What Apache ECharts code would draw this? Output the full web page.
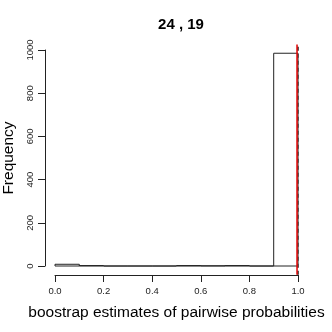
<!DOCTYPE html>
<html><head><meta charset="utf-8">
<script src="https://cdn.jsdelivr.net/npm/echarts@6/dist/echarts.min.js"></script>
<style>html,body{margin:0;padding:0;background:#fff}#c{width:332px;height:332px}</style>
</head><body><div id="c"></div>
<script>
const binStarts = [0.0, 0.1, 0.2, 0.3, 0.4, 0.5, 0.6, 0.7, 0.8, 0.9];
const binWidth = 0.1;
const counts = [8, 2, 0, 0, 0, 2, 1, 2, 0, 985];
const xTicks = [0.0, 0.2, 0.4, 0.6, 0.8, 1.0];
const yTicks = [0, 200, 400, 600, 800, 1000];
const redLineX = 0.996;
const dashedLineX = 1.0;
const titleText = '24 , 19';

const chart = echarts.init(document.getElementById('c'), null, {renderer: 'canvas'});
const barData = binStarts.map((s, i) => [s, s + binWidth, counts[i]]);
const ax = '#222';
chart.setOption({
  animation: false,
  title: {text: titleText, left: 176, top: 12, textAlign: 'center',
    textStyle: {fontFamily: 'Liberation Sans', fontSize: 15, fontWeight: 'bold', color: '#000'}},
  grid: {left: 55, right: 34, top: 50, bottom: 66, containLabel: false, outerBoundsMode: 'none'},
  xAxis: {type: 'value', min: xTicks[0], max: xTicks[xTicks.length - 1], interval: 0.2, offset: 9,
    axisLine: {onZero: false, lineStyle: {color: ax}}, axisTick: {length: 7, lineStyle: {color: ax}},
    splitLine: {show: false},
    axisLabel: {formatter: v => v.toFixed(1), fontFamily: 'Liberation Sans', fontSize: 9.5, color: '#222', margin: 11},
    name: 'boostrap estimates of pairwise probabilities', nameLocation: 'middle', nameGap: 30,
    nameTextStyle: {fontFamily: 'Liberation Sans', fontSize: 15.5, color: '#000'}},
  yAxis: {type: 'value', min: yTicks[0], max: yTicks[yTicks.length - 1], interval: 200, offset: 10,
    axisLine: {show: true, onZero: false, lineStyle: {color: ax}}, axisTick: {show: true, length: 7, lineStyle: {color: ax}},
    splitLine: {show: false},
    axisLabel: {rotate: 90, formatter: v => String(v), fontFamily: 'Liberation Sans', fontSize: 9.5, color: '#222', margin: 10},
    name: 'Frequency', nameLocation: 'middle', nameGap: 25,
    nameTextStyle: {fontFamily: 'Liberation Sans', fontSize: 15.5, color: '#000'}},
  series: [
    {type: 'custom', clip: false, data: barData,
      renderItem: (params, api) => {
        const p0 = api.coord([api.value(0), api.value(2)]);
        const p1 = api.coord([api.value(1), 0]);
        return {type: 'rect', shape: {x: p0[0], y: p0[1], width: p1[0] - p0[0], height: p1[1] - p0[1]},
          style: {fill: 'none', stroke: '#222', lineWidth: 1}};
      }},
    {type: 'custom', clip: false, data: [[dashedLineX, 0], [redLineX, 1]],
      renderItem: (params, api) => {
        const x = api.value(0);
        const a = api.coord([x, -40]);
        const b = api.coord([x, 1025]);
        const red = api.value(1) === 1;
        return {type: 'line', shape: {x1: a[0], y1: a[1], x2: b[0], y2: b[1]},
          style: red ? {stroke: '#e00000', lineWidth: 1.5} : {stroke: '#555', lineWidth: 2, lineDash: [4, 3]}};
      }}
  ]
});
</script></body></html>
